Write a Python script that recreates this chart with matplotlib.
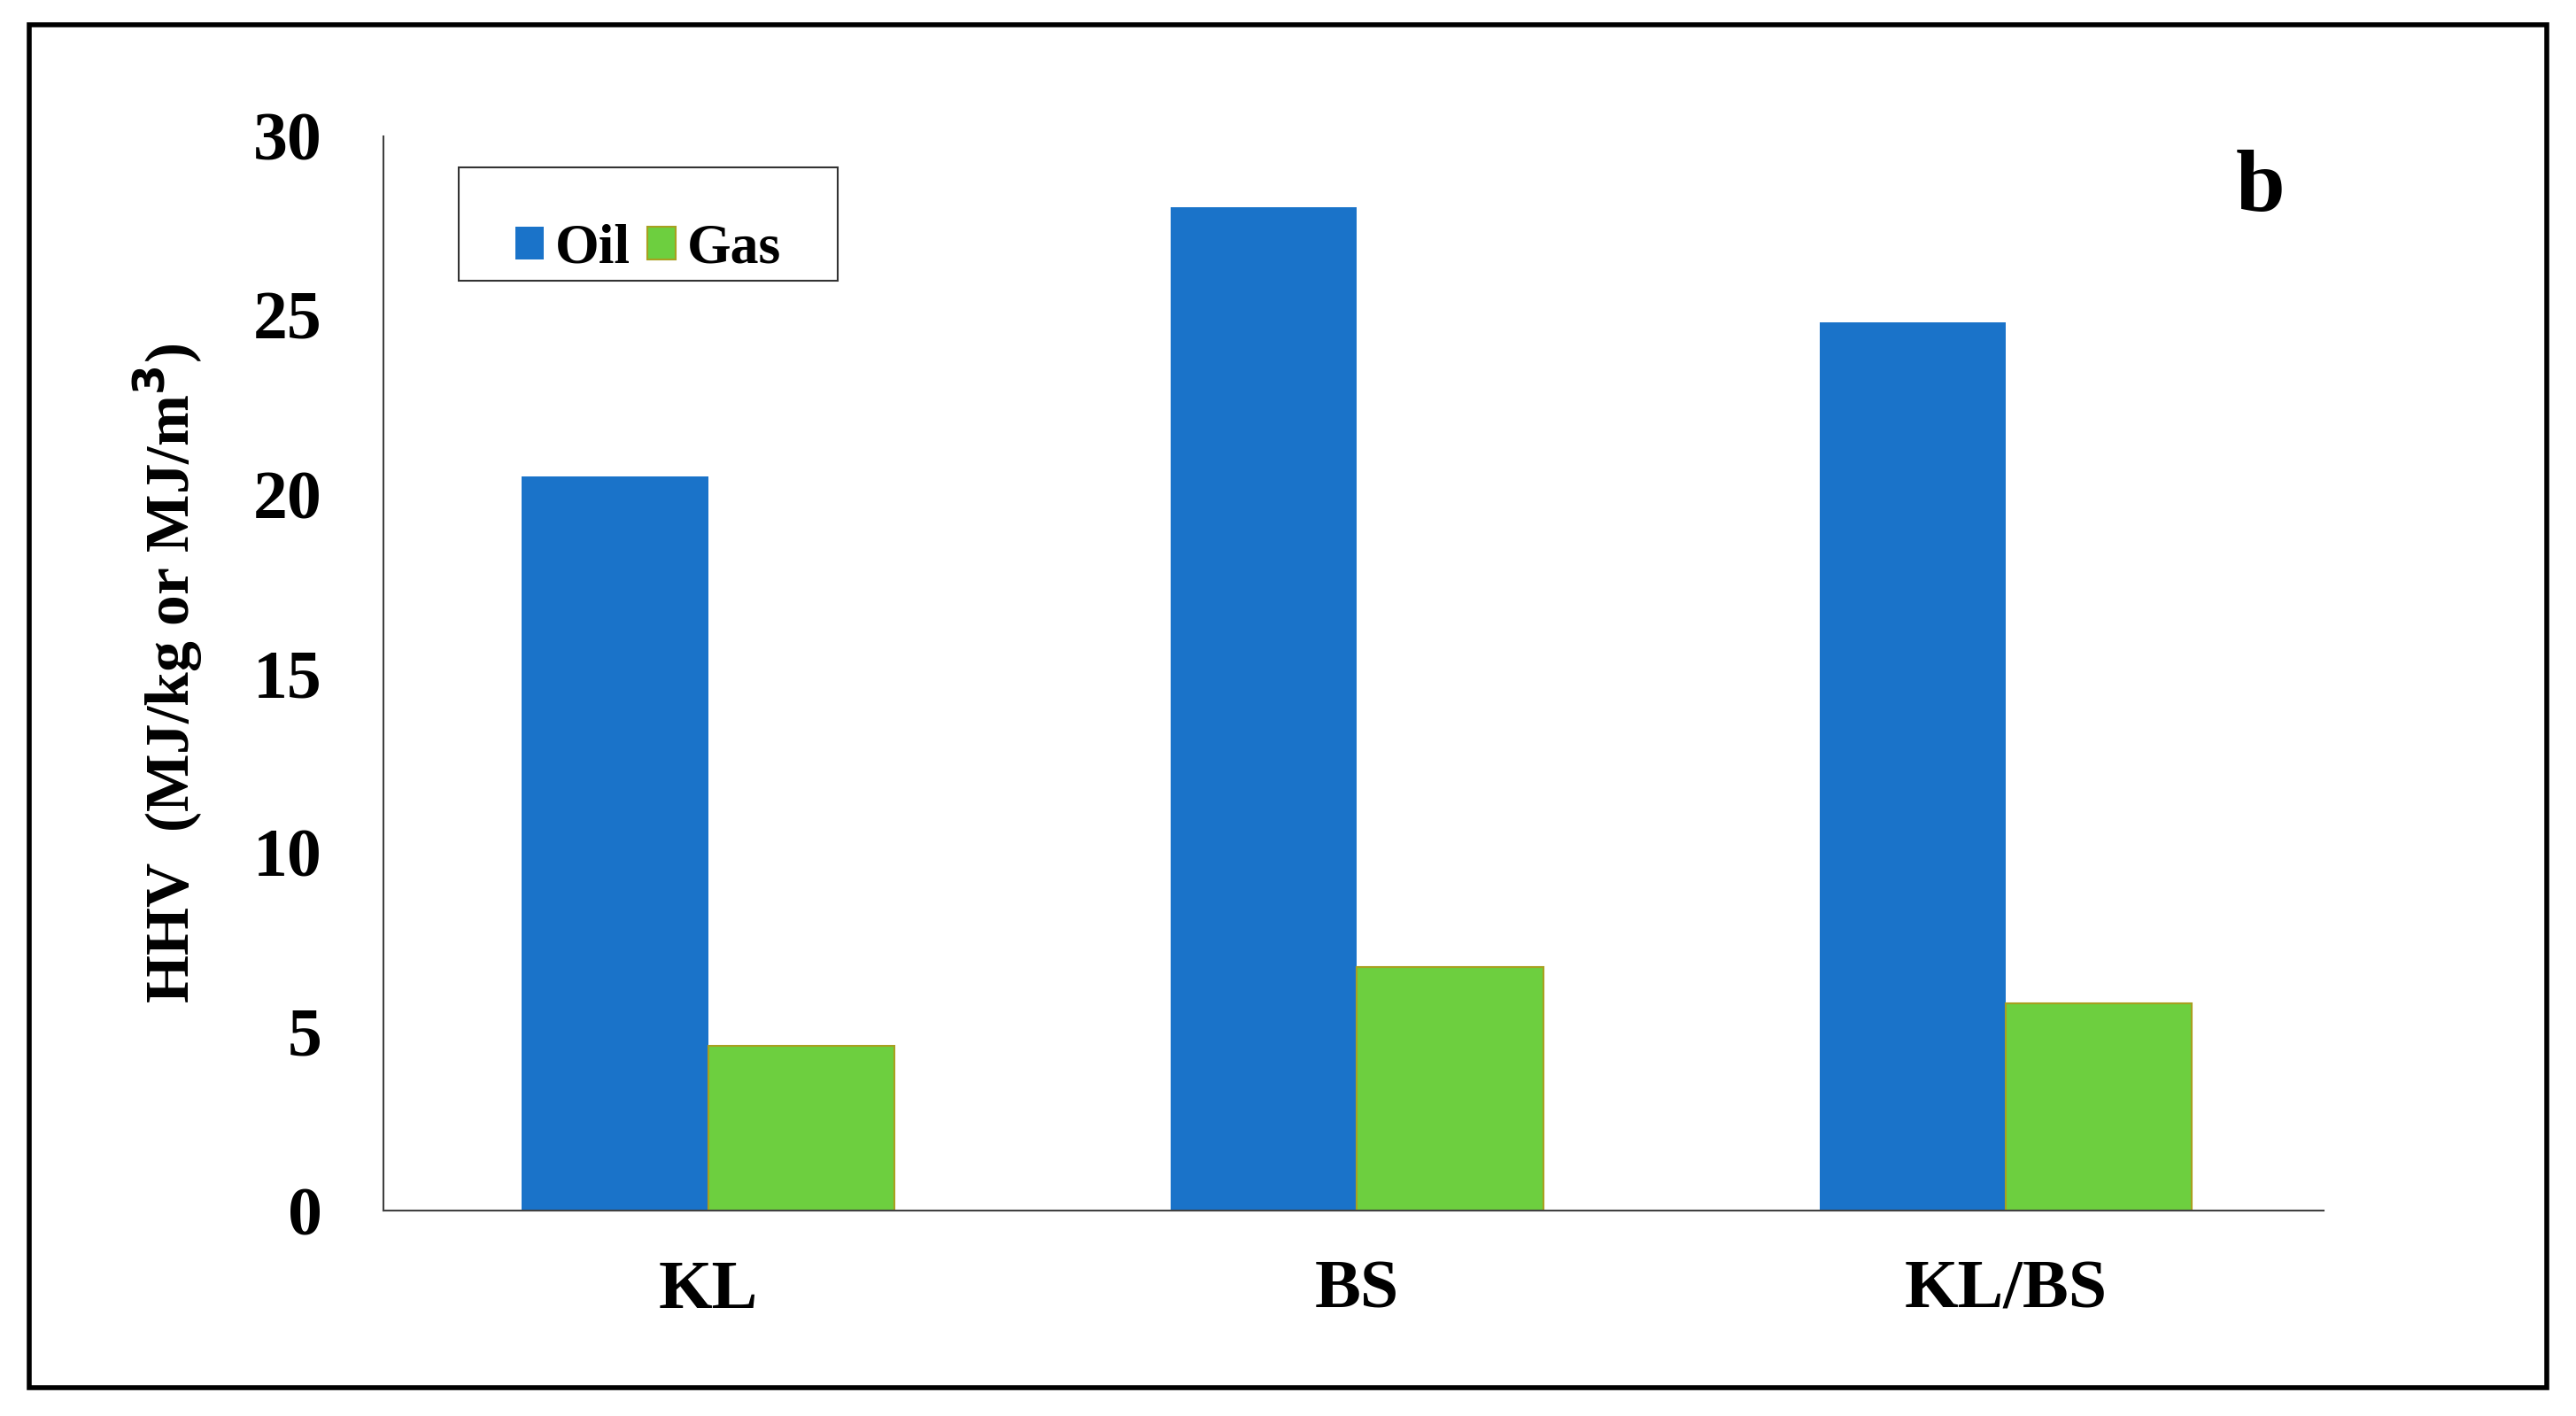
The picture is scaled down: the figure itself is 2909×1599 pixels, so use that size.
import matplotlib.pyplot as plt
import matplotlib.patches as patches
import numpy as np

categories = ["KL", "BS", "KL/BS"]
oil = [20.5, 28.0, 24.8]
gas = [4.6, 6.8, 5.8]
yticks = [0, 5, 10, 15, 20, 25, 30]

plt.rcParams['font.family'] = ['Liberation Serif', 'DejaVu Serif']
plt.rcParams['font.weight'] = 'bold'

fig = plt.figure(figsize=(29.09, 15.99), dpi=100)
ax = fig.add_axes([0.149, 0.145, 0.753, 0.759])

# outer frame around the whole panel
fig.patches.append(patches.Rectangle((0.0115, 0.02), 0.977, 0.9626, transform=fig.transFigure,
                                     fill=False, edgecolor='black', linewidth=4))

x = np.arange(len(categories))
w = 0.287
ax.bar(x - w / 2, oil, w, color='#1a73c9', label='Oil')
ax.bar(x + w / 2, gas, w, color='#6dcf3f', edgecolor='#a8a020', linewidth=1.5, label='Gas')

ax.set_xlim(-0.5, 2.49)
ax.set_ylim(0, 30)
ax.set_yticks(yticks)
ax.set_xticks(x)
ax.set_xticklabels(categories)
ax.tick_params(axis='both', length=0, labelsize=56)
ax.tick_params(axis='x', pad=40)
ax.tick_params(axis='y', pad=50)
for s in ['top', 'right']:
    ax.spines[s].set_visible(False)
for s in ['left', 'bottom']:
    ax.spines[s].set_color('#404040')
    ax.spines[s].set_linewidth(1.5)

ax.set_ylabel('HHV  (MJ/kg or MJ/m$^\\mathbf{3}$)', fontsize=50, fontweight='bold', labelpad=40)

leg = ax.legend(loc='upper left', bbox_to_anchor=(0.024, 0.997), ncol=2, fontsize=46,
                handlelength=0.5, handleheight=0.5, handletextpad=0.2, columnspacing=0.3,
                borderpad=1.0, fancybox=False, frameon=True)
leg.get_frame().set_edgecolor('black')
leg.get_frame().set_linewidth(1.5)
leg._legend_box.set_height(0)

ax.text(0.98, 0.95, 'b', transform=ax.transAxes, fontsize=72, fontweight='bold', ha='right', va='center')

fig.savefig('out.png', dpi=100)
